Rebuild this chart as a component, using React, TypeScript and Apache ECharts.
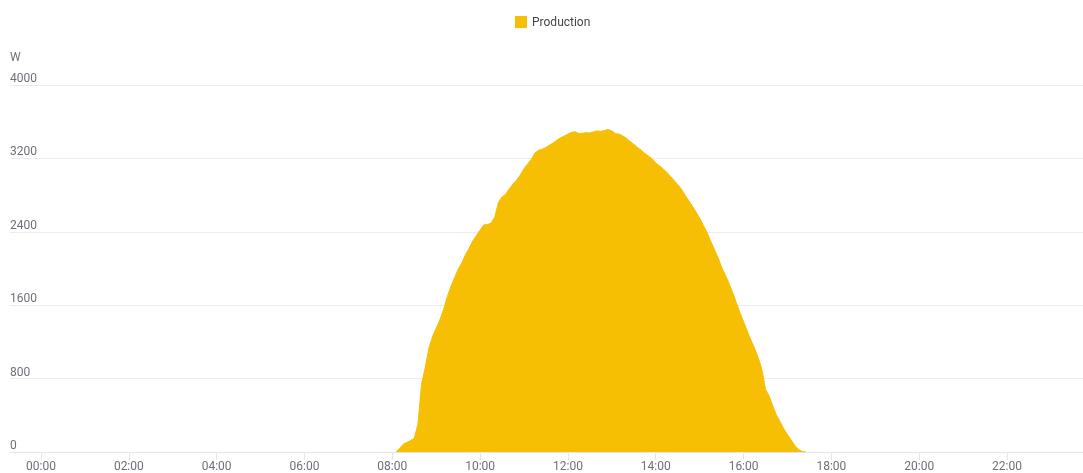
import React, { useEffect, useRef } from "react";
import * as echarts from "echarts";

// Solar production sampled every 5 minutes (W)
const times = [
  "08:05", "08:10", "08:15", "08:20", "08:25", "08:30", "08:35", "08:40", "08:45", "08:50", "08:55",
  "09:00", "09:05", "09:10", "09:15", "09:20", "09:25", "09:30", "09:35", "09:40", "09:45", "09:50", "09:55",
  "10:00", "10:05", "10:10", "10:15", "10:20", "10:25", "10:30", "10:35", "10:40", "10:45", "10:50", "10:55",
  "11:00", "11:05", "11:10", "11:15", "11:20", "11:25", "11:30", "11:35", "11:40", "11:45", "11:50", "11:55",
  "12:00", "12:05", "12:10", "12:15", "12:20", "12:25", "12:30", "12:35", "12:40", "12:45", "12:50", "12:55",
  "13:00", "13:05", "13:10", "13:15", "13:20", "13:25", "13:30", "13:35", "13:40", "13:45", "13:50", "13:55",
  "14:00", "14:05", "14:10", "14:15", "14:20", "14:25", "14:30", "14:35", "14:40", "14:45", "14:50", "14:55",
  "15:00", "15:05", "15:10", "15:15", "15:20", "15:25", "15:30", "15:35", "15:40", "15:45", "15:50", "15:55",
  "16:00", "16:05", "16:10", "16:15", "16:20", "16:25", "16:30", "16:35", "16:40", "16:45", "16:50", "16:55",
  "17:00", "17:05", "17:10", "17:15", "17:20", "17:25",
];

const production = [
  0, 40, 85, 105, 125, 150, 300, 740, 920, 1130, 1260,
  1350, 1440, 1550, 1690, 1800, 1900, 1990, 2060, 2150, 2220, 2300, 2360,
  2420, 2475, 2480, 2495, 2560, 2720, 2780, 2810, 2870, 2920, 2965, 3020,
  3090, 3140, 3190, 3260, 3290, 3300, 3320, 3345, 3370, 3400, 3425, 3445,
  3465, 3485, 3490, 3470, 3475, 3480, 3478, 3490, 3500, 3495, 3505, 3515,
  3500, 3470, 3465, 3445, 3420, 3385, 3355, 3320, 3290, 3255, 3225, 3195,
  3150, 3120, 3085, 3050, 3005, 2960, 2915, 2865, 2800, 2740, 2680, 2615,
  2550, 2470, 2395, 2300, 2210, 2120, 2015, 1930, 1840, 1740, 1630, 1520,
  1420, 1320, 1220, 1130, 1030, 900, 680, 610, 500, 400, 330, 250,
  190, 130, 70, 30, 5, 0,
];

const hourTicks = [0, 2, 4, 6, 8, 10, 12, 14, 16, 18, 20, 22];
const valueTicks = [0, 800, 1600, 2400, 3200, 4000];

const toHours = (t: string) => {
  const [h, m] = t.split(":").map(Number);
  return h + m / 60;
};

const fmtHour = (v: number) => `${String(Math.round(v)).padStart(2, "0")}:00`;

export default function App() {
  const ref = useRef<HTMLDivElement>(null);

  useEffect(() => {
    if (!ref.current) return;
    const chart = echarts.init(ref.current, undefined, { renderer: "svg" });
    const axisColor = "#6E7079";

    chart.setOption({
      animation: false,
      textStyle: { fontFamily: "Roboto, 'Noto Sans', sans-serif" },
      legend: {
        top: 11,
        left: 510,
        icon: "rect",
        itemWidth: 12,
        itemHeight: 12,
        itemGap: 10,
        textStyle: { color: "#464646", fontSize: 12 },
        data: ["Production"],
      },
      grid: { left: 10, right: 0, top: 85, bottom: 21, containLabel: false },
      xAxis: {
        type: "value",
        min: -0.706,
        max: 23.73,
        axisLine: { show: true, onZero: false, lineStyle: { color: "#e6e6e6" } },
        axisTick: {
          show: true,
          length: 8,
          customValues: hourTicks,
          lineStyle: { color: "#e6e6e6" },
        },
        axisLabel: {
          customValues: hourTicks,
          formatter: (v: number) => fmtHour(v),
          color: axisColor,
          fontSize: 12,
          margin: 8,
        },
        splitLine: { show: false },
      },
      yAxis: {
        type: "value",
        min: 0,
        max: 4000,
        interval: 800,
        name: "W",
        nameLocation: "end",
        nameGap: 22,
        nameTextStyle: { color: axisColor, fontSize: 12, align: "left" },
        axisLine: { show: false, onZero: false },
        axisTick: { show: false },
        axisLabel: {
          inside: true,
          margin: 0,
          verticalAlign: "bottom",
          padding: [0, 0, 1, 0],
          color: axisColor,
          fontSize: 12,
          customValues: valueTicks,
          formatter: (v: number) => String(v),
        },
        splitLine: { show: true, lineStyle: { color: "#ececec" } },
      },
      series: [
        {
          name: "Production",
          type: "line",
          data: times.map((t, i) => [toHours(t), production[i]]),
          showSymbol: false,
          color: "#F6BF04",
          lineStyle: { width: 1, color: "#F6BF04" },
          areaStyle: { color: "#F6BF04", opacity: 1 },
          z: 3,
        },
      ],
    });

    return () => chart.dispose();
  }, []);

  return (
    <div
      ref={ref}
      style={{ position: "fixed", left: 0, top: 0, width: 1083, height: 473 }}
    />
  );
}
